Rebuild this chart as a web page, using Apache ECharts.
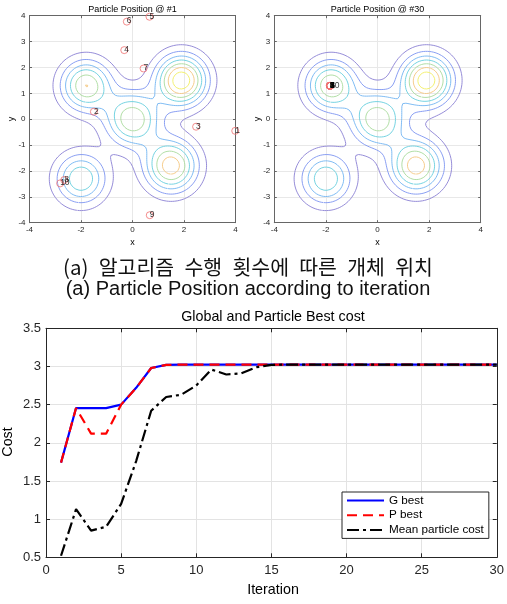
<!DOCTYPE html>
<html><head><meta charset="utf-8">
<script src="https://cdn.jsdelivr.net/npm/echarts@6/dist/echarts.min.js"></script>
<style>html,body{margin:0;padding:0;background:#fff}#c{width:507px;height:604px}</style>
</head><body><div id="c"></div>
<script>
// ---------------- data ----------------
const posTicksX = [-4, -2, 0, 2, 4];
const posTicksY = [-4, -3, -2, -1, 0, 1, 2, 3, 4];
const iterTicks = [0, 5, 10, 15, 20, 25, 30];
const costTicks = [0.5, 1, 1.5, 2, 2.5, 3, 3.5];

// landscape (sum of gaussian bumps)
const peakX = [-1.8, 1.9, 0, 1.5, -2];
const peakY = [1.3, 1.5, 0, -1.8, -2.3];
const peakH = [2.98, 3.91, 2.95, 3.32, 2.47];
const peakW = [0.93, 0.925, 1.05, 1.0, 0.95];
const contourLevels = [0.5, 1, 1.5, 2, 2.5, 3, 3.5];
const contourColors = ['#8a80d4', '#7d94f0', '#72b4f2', '#66cede', '#a8da9c', '#f4c67e', '#f2ee62'];

const particleIds = ['1', '2', '3', '4', '5', '6', '7', '8', '9', '10'];
const p1X = [3.99, -1.5, 2.47, -0.32, 0.66, -0.22, 0.43, -2.65, 0.67, -2.81];
const p1Y = [-0.45, 0.29, -0.29, 2.67, 3.96, 3.77, 1.96, -2.35, -3.71, -2.48];
const p30X = [-1.84, -1.84, -1.84, -1.84, -1.84, -1.84, -1.84, -1.84, -1.84, -1.84];
const p30Y = [1.29, 1.29, 1.29, 1.29, 1.29, 1.29, 1.29, 1.29, 1.29, 1.29];

const iterations = [1,2,3,4,5,6,7,8,9,10,11,12,13,14,15,16,17,18,19,20,21,22,23,24,25,26,27,28,29,30];
const gBest = [1.74,2.455,2.455,2.455,2.5,2.72,2.98,3.02,3.025,3.025,3.025,3.025,3.025,3.025,3.025,3.025,3.025,3.025,3.025,3.025,3.025,3.025,3.025,3.025,3.025,3.025,3.025,3.025,3.025,3.025];
const pBest = [1.74,2.455,2.12,2.12,2.5,2.72,2.98,3.02,3.025,3.025,3.025,3.025,3.025,3.025,3.025,3.025,3.025,3.025,3.025,3.025,3.025,3.025,3.025,3.025,3.025,3.025,3.025,3.025,3.025,3.025];
const meanCost = [0.52,1.13,0.85,0.9,1.2,1.76,2.42,2.6,2.63,2.75,2.96,2.895,2.91,2.99,3.02,3.025,3.025,3.025,3.025,3.025,3.025,3.025,3.025,3.025,3.025,3.025,3.025,3.025,3.025,3.025];

// ---------------- contour computation ----------------
function field(x, y) {
  let s = 0;
  for (let k = 0; k < peakX.length; k++) {
    const dx = x - peakX[k], dy = y - peakY[k];
    s += peakH[k] * Math.exp(-(dx * dx + dy * dy) / peakW[k]);
  }
  return s;
}
const N = 400, lo = posTicksX[0], hi = posTicksX[posTicksX.length - 1];
const step = (hi - lo) / N, nx = N + 1;
const g = new Float64Array(nx * nx);
for (let j = 0; j < nx; j++) for (let i = 0; i < nx; i++) g[j * nx + i] = field(lo + i * step, lo + j * step);

function contourLines(L) {
  const segs = [], pts = new Map();
  function ep(type, i, j) {
    const key = (j * nx + i) * 2 + type;
    if (!pts.has(key)) {
      const va = g[j * nx + i], xa = lo + i * step, ya = lo + j * step;
      if (type === 0) { const vb = g[j * nx + i + 1]; const t = (L - va) / (vb - va); pts.set(key, [xa + t * step, ya]); }
      else { const vb = g[(j + 1) * nx + i]; const t = (L - va) / (vb - va); pts.set(key, [xa, ya + t * step]); }
    }
    return key;
  }
  for (let j = 0; j < N; j++) for (let i = 0; i < N; i++) {
    const v00 = g[j * nx + i], v10 = g[j * nx + i + 1], v11 = g[(j + 1) * nx + i + 1], v01 = g[(j + 1) * nx + i];
    const c = (v00 > L ? 1 : 0) | (v10 > L ? 2 : 0) | (v11 > L ? 4 : 0) | (v01 > L ? 8 : 0);
    if (c === 0 || c === 15) continue;
    const B = () => ep(0, i, j), T = () => ep(0, i, j + 1), Lf = () => ep(1, i, j), R = () => ep(1, i + 1, j);
    const ctr = (v00 + v10 + v11 + v01) / 4 > L;
    switch (c) {
      case 1: case 14: segs.push([Lf(), B()]); break;
      case 2: case 13: segs.push([B(), R()]); break;
      case 3: case 12: segs.push([Lf(), R()]); break;
      case 4: case 11: segs.push([R(), T()]); break;
      case 6: case 9: segs.push([B(), T()]); break;
      case 7: case 8: segs.push([Lf(), T()]); break;
      case 5: if (ctr) { segs.push([B(), R()]); segs.push([Lf(), T()]); } else { segs.push([Lf(), B()]); segs.push([R(), T()]); } break;
      case 10: if (ctr) { segs.push([Lf(), B()]); segs.push([R(), T()]); } else { segs.push([B(), R()]); segs.push([Lf(), T()]); } break;
    }
  }
  const adj = new Map();
  segs.forEach((s, idx) => { for (const e of s) { if (!adj.has(e)) adj.set(e, []); adj.get(e).push(idx); } });
  const used = new Uint8Array(segs.length), lines = [];
  function walk(start) {
    const out = []; let cur = start;
    while (true) {
      const list = adj.get(cur); let nxt = -1;
      for (const si of list) if (!used[si]) { nxt = si; break; }
      if (nxt < 0) break;
      used[nxt] = 1; const s = segs[nxt]; const other = s[0] === cur ? s[1] : s[0];
      out.push(other); cur = other;
    }
    return out;
  }
  for (let s0 = 0; s0 < segs.length; s0++) {
    if (used[s0]) continue; used[s0] = 1;
    const fwd = walk(segs[s0][1]);
    const back = walk(segs[s0][0]);
    const chain = back.reverse().concat([segs[s0][0], segs[s0][1]], fwd);
    lines.push(chain.map(k => pts.get(k)));
  }
  return lines;
}
const contourSets = contourLevels.map(L => contourLines(L));

// ---------------- chart ----------------
const chart = echarts.init(document.getElementById('c'), null, { renderer: 'canvas' });
const FF = 'Liberation Sans, Arial, sans-serif';

function axes(gridIndex, ticks, isX, fontSize, margin, tickLen, lineColor, gridColor) {
  const common = {
    gridIndex, type: 'value', min: ticks[0], max: ticks[ticks.length - 1], interval: ticks[1] - ticks[0],
    axisLine: { show: true, onZero: false, lineStyle: { color: lineColor, width: 1 } },
    axisTick: { show: true, inside: true, length: tickLen, lineStyle: { color: lineColor, width: 1 } },
    splitLine: { show: false }
  };
  return [
    Object.assign({}, common, { position: isX ? 'bottom' : 'left',
      axisLabel: { show: true, color: '#262626', fontSize, fontFamily: FF, margin },
      splitLine: { show: true, lineStyle: { color: gridColor, width: 1 } } }),
    Object.assign({}, common, { position: isX ? 'top' : 'right', axisLabel: { show: false } })
  ];
}

const grids = [
  { left: 29.5, top: 15.7, width: 206, height: 207 },
  { left: 274.3, top: 15.7, width: 206.4, height: 207 },
  { left: 46, top: 328.3, width: 454, height: 229 }
];
const xAxes = [].concat(
  axes(0, posTicksX, true, 8, 3, 2.5, '#666', '#e8e8e8'),
  axes(1, posTicksX, true, 8, 3, 2.5, '#666', '#e8e8e8'),
  axes(2, iterTicks, true, 13, 7, 4, '#262626', '#e3e3e3'));
const yAxes = [].concat(
  axes(0, posTicksY, false, 8, 4, 2.5, '#666', '#e8e8e8'),
  axes(1, posTicksY, false, 8, 4, 2.5, '#666', '#e8e8e8'),
  axes(2, costTicks, false, 13, 5, 4, '#262626', '#e3e3e3'));

const series = [];
[0, 1].forEach(gi => {
  contourSets.forEach((lines, li) => {
    lines.forEach(line => {
      series.push({ type: 'line', xAxisIndex: gi * 2, yAxisIndex: gi * 2, data: line, showSymbol: false, symbol: 'none',
        lineStyle: { color: contourColors[li], width: 0.9 }, silent: true, animation: false, z: 2 });
    });
  });
});
function particleSeries(gi, xs, ys) {
  return { type: 'scatter', xAxisIndex: gi * 2, yAxisIndex: gi * 2, symbol: 'circle', symbolSize: 7,
    data: xs.map((x, i) => ({ value: [x, ys[i]], name: particleIds[i] })),
    itemStyle: { color: 'rgba(0,0,0,0)', borderColor: '#f07070', borderWidth: 1 },
    label: { show: true, formatter: p => p.name, position: [4, 3.5], align: 'left', verticalAlign: 'middle',
      color: '#000', fontSize: 8.5, fontFamily: FF },
    silent: true, animation: false, z: 5 };
}
series.push(particleSeries(0, p1X, p1Y));
series.push(particleSeries(1, p30X, p30Y));

const iterData = a => iterations.map((it, i) => [it, a[i]]);
series.push({ name: 'G best', type: 'line', xAxisIndex: 4, yAxisIndex: 4, data: iterData(gBest), symbol: 'none', showSymbol: false,
  lineStyle: { color: '#0000ff', width: 2.2 }, itemStyle: { color: '#0000ff' }, animation: false, z: 3 });
series.push({ name: 'P best', type: 'line', xAxisIndex: 4, yAxisIndex: 4, data: iterData(pBest), symbol: 'none', showSymbol: false,
  lineStyle: { color: '#ff0000', width: 2.2, type: [10, 6] }, itemStyle: { color: '#ff0000' }, animation: false, z: 3 });
series.push({ name: 'Mean particle cost', type: 'line', xAxisIndex: 4, yAxisIndex: 4, data: iterData(meanCost), symbol: 'none', showSymbol: false,
  lineStyle: { color: '#000000', width: 2.2, type: [12, 4, 3, 4] }, itemStyle: { color: '#000' }, animation: false, z: 3 });

function txt(x, y, text, size, opts) {
  opts = opts || {};
  return { type: 'text', x, y, rotation: opts.rot || 0, silent: true, z: 10,
    style: { text, fill: opts.fill || '#000', font: (opts.weight || 'normal') + ' ' + size + 'px ' + (opts.family || FF),
      align: 'center', verticalAlign: 'middle', textAlign: 'center', textVerticalAlign: 'middle' } };
}

chart.setOption({
  animation: false,
  backgroundColor: '#fff',
  grid: grids,
  xAxis: xAxes,
  yAxis: yAxes,
  legend: {
    data: ['G best', 'P best', 'Mean particle cost'],
    orient: 'vertical', left: 342, top: 492, itemWidth: 37, itemHeight: 14, itemGap: 2.7,
    padding: [2.5, 5, 2.5, 4], borderColor: '#262626', borderWidth: 1, backgroundColor: '#fff',
    itemStyle: { opacity: 0 },
    textStyle: { fontSize: 11.7, color: '#000', fontFamily: FF }, selectedMode: false
  },
  graphic: [
    txt(132.5, 9.5, 'Particle Position @ #1', 9),
    txt(377.5, 9.5, 'Particle Position @ #30', 9),
    txt(132.5, 243, 'x', 9),
    txt(377.5, 243, 'x', 9),
    txt(12, 119, 'y', 9, { rot: Math.PI / 2 }),
    txt(257.5, 119, 'y', 9, { rot: Math.PI / 2 }),
    txt(248, 267.5, '(a)\u2002알고리즘\u2002수행\u2002횟수에\u2002따른\u2002개체\u2002위치', 20.5, { family: '"Noto Sans CJK KR", sans-serif', fill: '#111' }),
    txt(248, 289, '(a) Particle Position according to iteration', 20, { fill: '#111' }),
    txt(273, 317, 'Global and Particle Best cost', 14.3),
    txt(273, 590.5, 'Iteration', 14.3),
    txt(8, 442, 'Cost', 14.3, { rot: Math.PI / 2 })
  ],
  series
});
</script>
</body></html>
